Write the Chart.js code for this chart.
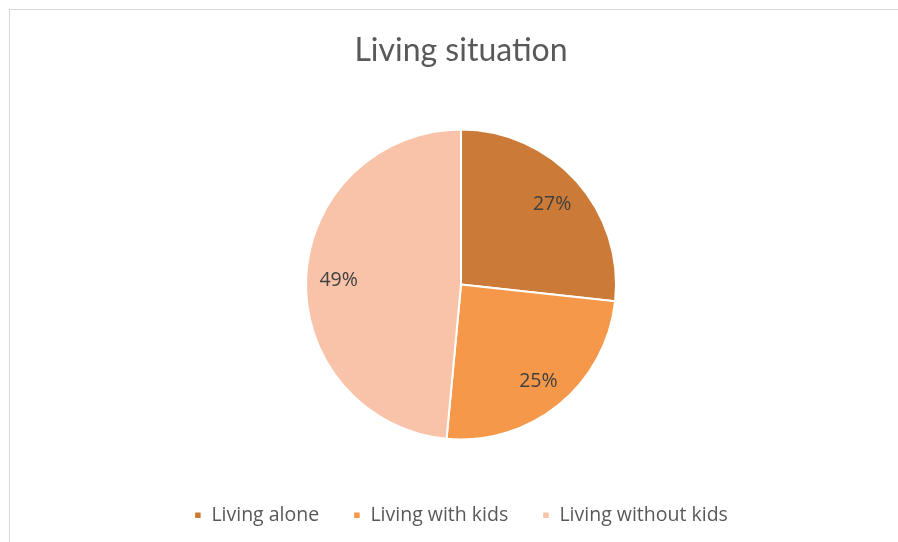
<!DOCTYPE html>
<html>
<head>
<meta charset="utf-8">
<script src="https://cdn.jsdelivr.net/npm/chart.js@4"></script>
<style>
  html, body { margin: 0; padding: 0; background: #fff; overflow: hidden; }
  #frame { position: absolute; left: 9px; top: 9px; width: 900px; height: 545px; border: 1px solid #d9d9d9; box-sizing: border-box; }
  #wrap { position: absolute; left: 0; top: 0; width: 898px; height: 542px; }
</style>
</head>
<body>
<div id="frame"></div>
<div id="wrap"><canvas id="c" width="898" height="542"></canvas></div>
<script>
const titleText = "Living situation";
const categories = ["Living alone", "Living with kids", "Living without kids"];
const values = [27, 25, 49];
const sliceColors = ["#CB7A37", "#F5984A", "#F9C3A9"];

const labelPlugin = {
  id: "sliceLabels",
  afterDatasetsDraw(chart) {
    const ctx = chart.ctx;
    const meta = chart.getDatasetMeta(0);
    const data = chart.data.datasets[0].data;
    const total = data.reduce((a, b) => a + b, 0);
    ctx.save();
    ctx.font = "19.5px 'Open Sans'";
    ctx.fillStyle = "#404040";
    ctx.textAlign = "center";
    ctx.textBaseline = "middle";
    meta.data.forEach((arc, i) => {
      const p = arc.getProps(["x", "y", "startAngle", "endAngle", "outerRadius"], true);
      const mid = (p.startAngle + p.endAngle) / 2;
      const r = p.outerRadius * 0.79;
      const pct = Math.round(data[i] / total * 100) + "%";
      ctx.fillText(pct, p.x + Math.cos(mid) * r, p.y + Math.sin(mid) * r + 2);
    });
    ctx.restore();
  }
};

new Chart(document.getElementById("c"), {
  type: "pie",
  data: {
    labels: categories,
    datasets: [{
      data: values,
      backgroundColor: sliceColors,
      borderColor: "#ffffff",
      borderWidth: 2,
      radius: 155
    }]
  },
  options: {
    responsive: false,
    animation: false,
    layout: { padding: { left: 24, right: 0, top: 0, bottom: 7 } },
    plugins: {
      title: {
        display: true,
        text: titleText,
        color: "#595959",
        font: { family: "Lato", size: 32, weight: "normal" },
        padding: { top: 31.8, bottom: 27.3 }
      },
      legend: {
        position: "bottom",
        labels: {
          color: "#595959",
          font: { family: "'Open Sans'", size: 19.5 },
          boxWidth: 7.5,
          boxHeight: 7.5,
          padding: 34
        }
      },
      tooltip: { enabled: false }
    }
  },
  plugins: [labelPlugin]
});
</script>
</body>
</html>
